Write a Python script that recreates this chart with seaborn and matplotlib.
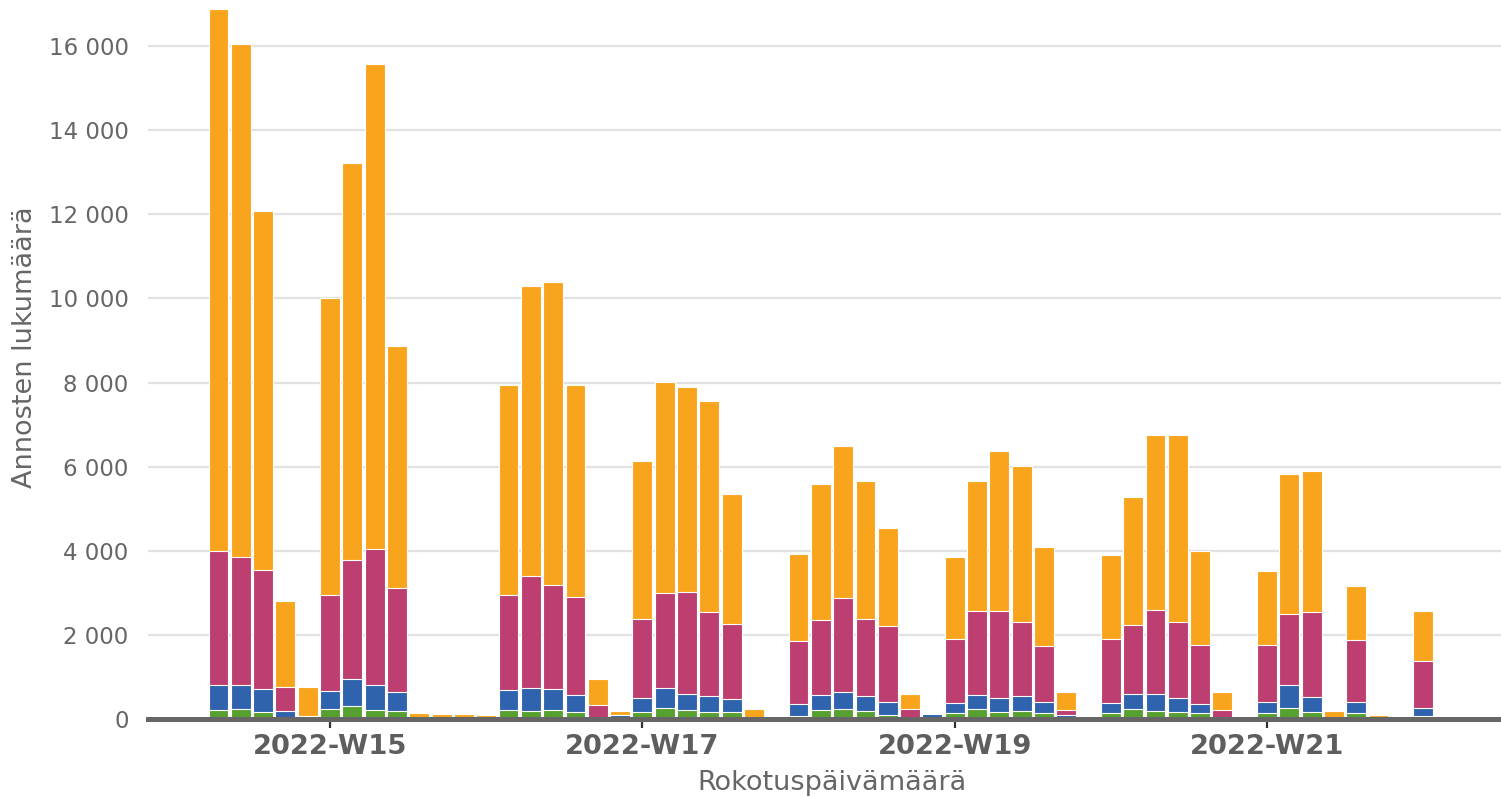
import numpy as np
import pandas as pd
import matplotlib
matplotlib.use("Agg")
import matplotlib.pyplot as plt
from matplotlib.ticker import FuncFormatter, FixedLocator
import seaborn as sns

# ---- data (daily doses, 2022-04-06 .. 2022-05-30) ----
start_date = "2022-04-06"
end_date = "2022-05-30"

green = [215, 245, 155, 0, 0, 245, 305, 215, 190, 0, 0, 0, 0,
         215, 180, 215, 155, 0, 0, 155, 270, 215, 155, 155, 0, 0,
         80, 215, 235, 190, 105, 0, 0, 135, 245, 165, 190, 135, 0, 0,
         135, 245, 190, 165, 135, 0, 0, 135, 270, 155, 0, 135, 0, 0, 80]
blue = [585, 555, 560, 190, 0, 410, 640, 585, 445, 0, 0, 0, 0,
        475, 565, 500, 425, 0, 85, 345, 475, 390, 390, 310, 0, 0,
        275, 365, 400, 355, 305, 0, 115, 245, 335, 335, 355, 275, 85, 0,
        245, 360, 415, 335, 220, 0, 0, 275, 530, 370, 0, 275, 0, 0, 190]
pink = [3200, 3060, 2835, 580, 80, 2295, 2825, 3240, 2485, 0, 0, 0, 0,
        2270, 2655, 2475, 2320, 325, 0, 1875, 2240, 2410, 1995, 1800, 0, 0,
        1500, 1765, 2240, 1830, 1795, 245, 0, 1525, 1990, 2070, 1750, 1325, 130, 0,
        1525, 1630, 1990, 1795, 1405, 215, 0, 1350, 1685, 2015, 0, 1470, 0, 0, 1110]
orange = [12880, 12190, 8540, 2040, 690, 7070, 9440, 11530, 5740, 150, 110, 110, 90,
          4970, 6890, 7210, 5030, 620, 105, 3755, 5025, 4885, 5030, 3095, 240, 0,
          2065, 3235, 3605, 3285, 2345, 355, 20, 1935, 3090, 3800, 3715, 2345, 420, 0,
          1985, 3035, 4165, 4465, 2230, 420, 0, 1770, 3335, 3360, 190, 1290, 85, 0, 1180]

tick_dates = ["2022-04-11", "2022-04-25", "2022-05-09", "2022-05-23"]

series_colors = {"green": "#56A030", "blue": "#2F63AD", "pink": "#BD3E71", "orange": "#F8A51D"}

# ---- build frame ----
dates = pd.date_range(start_date, end_date, freq="D")
d0 = dates[0]
df = pd.DataFrame({"date": dates, "green": green, "blue": blue, "pink": pink, "orange": orange})
df["day"] = (df["date"] - d0).dt.days
df["c_green"] = df["green"]
df["c_blue"] = df["c_green"] + df["blue"]
df["c_pink"] = df["c_blue"] + df["pink"]
df["c_orange"] = df["c_pink"] + df["orange"]

sns.set_theme(style="white")
plt.rcParams["font.family"] = ["DejaVu Sans"]

fig = plt.figure(figsize=(15.01, 7.97), dpi=100)
ax = fig.add_axes([148 / 1501, (797 - 719) / 797, 1 - 148 / 1501, (719 - 4) / 797])

for col, key in [("c_orange", "orange"), ("c_pink", "pink"), ("c_blue", "blue"), ("c_green", "green")]:
    sns.barplot(data=df, x="day", y=col, color=series_colors[key], native_scale=True,
                width=0.89, saturation=1, edgecolor="white", linewidth=0.8,
                errorbar=None, ax=ax)

ax.set_xlim(-3.16, 57.49)
ax.set_ylim(0, 17000)

# y axis
ax.set_yticks(np.arange(0, 16001, 2000))
ax.yaxis.set_major_formatter(FuncFormatter(lambda v, p: f"{int(v):,}".replace(",", " ")))
ax.yaxis.grid(True, color="#E2E2E2", linewidth=1.6)
ax.xaxis.grid(False)
ax.set_axisbelow(True)
ax.tick_params(axis="y", length=0, pad=14, labelsize=16.5, labelcolor="#666666")

# x axis
tick_pos = [(pd.Timestamp(t) - d0).days for t in tick_dates]
tick_lab = [f"{pd.Timestamp(t).isocalendar()[0]}-W{pd.Timestamp(t).isocalendar()[1]:02d}" for t in tick_dates]
ax.xaxis.set_major_locator(FixedLocator(tick_pos))
ax.set_xticklabels(tick_lab, fontweight="bold", fontsize=19.7, color="#5E5E5E")
ax.tick_params(axis="x", length=6.5, width=1.6, color="#333333", pad=4, direction="out", bottom=True)

for s in ["top", "right", "left"]:
    ax.spines[s].set_visible(False)
ax.spines["bottom"].set_color("#666666")
ax.spines["bottom"].set_linewidth(3.6)
ax.spines["bottom"].set_zorder(5)

ax.set_xlabel("Rokotuspäivämäärä", fontsize=19.5, color="#666666")
ax.set_ylabel("Annosten lukumäärä", fontsize=19.5, color="#666666")
ax.xaxis.set_label_coords(0.5055, -0.071)
ax.yaxis.set_label_coords(-0.081, 0.52)

fig.savefig("out.png", dpi=100)
